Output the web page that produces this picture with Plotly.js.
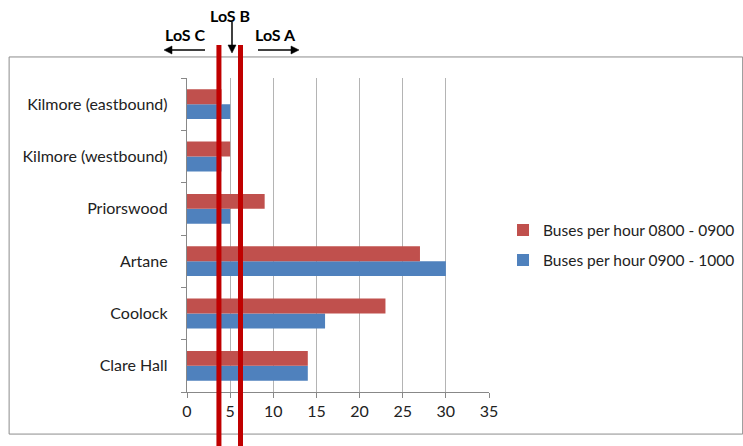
<!DOCTYPE html>
<html>
<head>
<meta charset="utf-8">
<script src="https://cdn.plot.ly/plotly-3.0.1.min.js"></script>
<style>html,body{margin:0;padding:0;background:#fff;}#chart{width:743px;height:446px;}</style>
</head>
<body>
<div id="chart"></div>
<script>
// Categories listed bottom-to-top
var categories = ['Clare Hall', 'Coolock', 'Artane', 'Priorswood', 'Kilmore (westbound)', 'Kilmore (eastbound)'];
var buses0800 = [14, 23, 27, 9, 5, 4];
var buses0900 = [14, 16, 30, 5, 4, 5];
var seriesNames = ['Buses per hour 0800 - 0900', 'Buses per hour 0900 - 1000'];
var xTicks = [0, 5, 10, 15, 20, 25, 30, 35];
var losThresholds = [3.7, 6.2];

var FONT = 'Lato, "Liberation Sans", sans-serif';

var traces = [
  {type: 'bar', orientation: 'h', name: seriesNames[1], y: categories, x: buses0900,
   legendgroup: 'b', legendrank: 2, marker: {color: '#4f81bd'}},
  {type: 'bar', orientation: 'h', name: seriesNames[0], y: categories, x: buses0800,
   legendgroup: 'a', legendrank: 1, marker: {color: '#c0504d'}}
];

var shapes = [
  {type: 'rect', xref: 'paper', yref: 'paper', x0: -0.589, x1: 1.84, y0: -0.134, y1: 1.067,
   line: {color: '#8c8c8c', width: 1}, fillcolor: 'rgba(0,0,0,0)', layer: 'below'},
  // LoS B down arrow
  {type: 'line', xref: 'paper', yref: 'paper', x0: 0.149, x1: 0.149, y0: 1.1783, y1: 1.1051,
   line: {color: '#000', width: 1.5}},
  {type: 'path', xref: 'paper', yref: 'paper', path: 'M 0.149 1.0796 L 0.1358 1.1051 L 0.1623 1.1051 Z',
   fillcolor: '#000', line: {color: '#000', width: 0.5}},
  // LoS C left arrow
  {type: 'line', xref: 'paper', yref: 'paper', x0: 0.0596, x1: -0.0497, y0: 1.0892, y1: 1.0892,
   line: {color: '#000', width: 1.5}},
  {type: 'path', xref: 'paper', yref: 'paper', path: 'M -0.0762 1.0892 L -0.0497 1.1019 L -0.0497 1.0764 Z',
   fillcolor: '#000', line: {color: '#000', width: 0.5}},
  // LoS A right arrow
  {type: 'line', xref: 'paper', yref: 'paper', x0: 0.2351, x1: 0.3444, y0: 1.0892, y1: 1.0892,
   line: {color: '#000', width: 1.5}},
  {type: 'path', xref: 'paper', yref: 'paper', path: 'M 0.3709 1.0892 L 0.3444 1.1019 L 0.3444 1.0764 Z',
   fillcolor: '#000', line: {color: '#000', width: 0.5}}
];
losThresholds.forEach(function (v) {
  shapes.push({type: 'line', xref: 'x', yref: 'paper', x0: v, x1: v, y0: -0.18, y1: 1.105,
    line: {color: '#c00000', width: 5}, layer: 'above'});
});

var annotations = [
  {xref: 'paper', yref: 'paper', x: 0.1424, y: 1.2006, xanchor: 'center', yanchor: 'middle',
   text: '<b>LoS B</b>', showarrow: false, font: {family: FONT, size: 16, color: '#000'}},
  {xref: 'paper', yref: 'paper', x: -0.0066, y: 1.137, xanchor: 'center', yanchor: 'middle',
   text: '<b>LoS C</b>', showarrow: false, font: {family: FONT, size: 16, color: '#000'}},
  {xref: 'paper', yref: 'paper', x: 0.2947, y: 1.137, xanchor: 'center', yanchor: 'middle',
   text: '<b>LoS A</b>', showarrow: false, font: {family: FONT, size: 16, color: '#000'}}
];

var layout = {
  width: 743, height: 446,
  margin: {l: 187, r: 254, t: 78, b: 54, autoexpand: false},
  paper_bgcolor: '#fff', plot_bgcolor: '#fff',
  font: {family: FONT, size: 16, color: '#222'},
  barmode: 'group', bargap: 0.43, bargroupgap: 0,
  xaxis: {range: [0, 35], tickvals: xTicks, ticktext: xTicks.map(String), showgrid: true,
    gridcolor: '#b4b4b4', gridwidth: 1, zeroline: false, showline: true, linecolor: '#888',
    ticks: 'outside', ticklen: 5, tickcolor: '#888', fixedrange: true, automargin: false},
  yaxis: {type: 'category', categoryorder: 'array', categoryarray: categories,
    showline: true, linecolor: '#888', ticks: 'outside', ticklen: 5, tickcolor: '#888',
    tickson: 'boundaries', showgrid: false, zeroline: false, ticksuffix: '  ', ticklabelstandoff: 7,
    fixedrange: true, automargin: false},
  showlegend: true,
  legend: {xref: 'container', yref: 'container', x: 0.677, y: 0.45, xanchor: 'left', yanchor: 'middle',
    traceorder: 'grouped', tracegroupgap: 7,
    font: {family: FONT, size: 15.5, color: '#222'}, bgcolor: 'rgba(0,0,0,0)', itemwidth: 30},
  shapes: shapes,
  annotations: annotations
};

Plotly.newPlot('chart', traces, layout, {displayModeBar: false, staticPlot: true});
</script>
</body>
</html>
